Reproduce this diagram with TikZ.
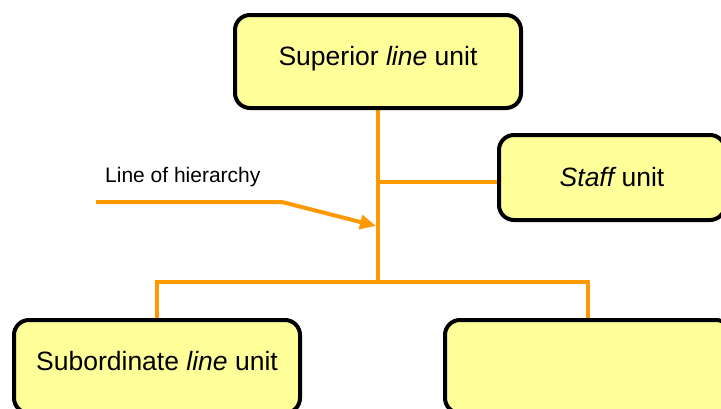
\documentclass[tikz,border=0pt]{standalone}
\usepackage{fontspec}
\setmainfont{Liberation Sans}
\usetikzlibrary{arrows.meta,backgrounds}

\definecolor{unitfill}{RGB}{255,255,153}
\definecolor{hierline}{RGB}{255,153,0}

\tikzset{
	unit/.style={draw=black, line width=4pt, fill=unitfill, rounded corners=15pt,
		inner sep=0pt, font=\fontsize{26.5}{30}\selectfont},
	tallunit/.style={unit, minimum width=286pt, minimum height=93pt,
		text height=19pt, text depth=11pt},
	link/.style={draw=hierline, line width=4pt},
}

\begin{document}
\begin{tikzpicture}[x=1pt, y=-1pt]
	\useasboundingbox (0,0) rectangle (721,408);

	\node[tallunit]	(sup)	at (378,61.5)	{Superior {\itshape line} unit};
	\node[unit, minimum width=226pt, minimum height=85pt]
					(staff)	at (612,177.5)	{{\itshape Staff} unit};
	\node[tallunit]	(subl)	at (157,366.5)	{Subordinate {\itshape line} unit};
	\node[tallunit]	(subr)	at (588,366.5)	{};

	\coordinate (bus) at (378,282);
	\coordinate (hstart) at (96,202);
	\coordinate (hbend) at (282,202);
	\coordinate (htip) at (376,226);

	\node[anchor=west, inner sep=0pt, font=\fontsize{21}{24}\selectfont]
		(hlabel) at (105,177) {Line of hierarchy};

	\begin{scope}[on background layer]
		\path[link]
		(sup)						-- (bus)
		([yshift=-4.5pt]staff.west)	-- ([yshift=-4.5pt]staff.west -| sup)
		(subl.north)				|- (bus) -| (subr.north);
		\draw[link, line cap=butt, -{Triangle[length=16pt, width=14pt]}]
		(hstart) -- (hbend) -- (htip);
	\end{scope}
\end{tikzpicture}
\end{document}
